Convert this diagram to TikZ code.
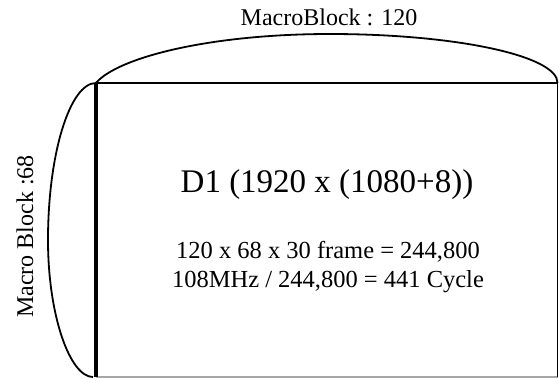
\documentclass[tikz,border=0pt]{standalone}
\usepackage{fontspec}
\setmainfont{Liberation Serif}
\begin{document}
\begin{tikzpicture}[x=1pt,y=-1pt,
  curveline/.style={line width=1.8pt,black},
  lbl/.style={inner sep=0pt,font=\fontsize{24}{29}\selectfont},
  title/.style={inner sep=0pt,font=\fontsize{33}{38}\selectfont},
  body/.style={inner sep=0pt,align=center,font=\fontsize{24.5}{29}\selectfont}]
\useasboundingbox (0,0) rectangle (559,378);
\fill[white] (0,0) rectangle (559,378);
% corners of the frame
\coordinate (tl) at (96,83);
\coordinate (tr) at (557.5,83);
\coordinate (bl) at (96,377);
\coordinate (br) at (557.5,377);
\coordinate (tp) at (330,34);
\coordinate (lp) at (48,240);
% frame
\draw[line width=1.1pt,gray!70] (bl) -- (br);
\draw[line width=1.4pt] (tr) -- (br);
\draw[line width=2.4pt] (tl) -- (tr);
\draw[line width=3.4pt] (tl) -- (bl);
% top brace-like arc
\draw[curveline] (tl) .. controls (117,58) and (208,34) .. (tp)
  .. controls (455.9,34) and (558,55.9) .. (tr);
% left arc
\draw[curveline] (tl) .. controls (70,83) and (48,153.3) .. (lp)
  .. controls (48,315.7) and (70,377) .. (93,377);
% labels
\node[lbl] (toplabel) at (329,17) {MacroBlock : 120};
\node[lbl,rotate=90] (leftlabel) at (25,236.5) {Macro Block :68};
\node[title] (d1) at (327,185) {D1 (1920 x (1080+8))};
\node[body] (calc) at (328,267) {120 x 68 x 30 frame = 244,800\\108MHz / 244,800 = 441 Cycle};
\end{tikzpicture}
\end{document}
